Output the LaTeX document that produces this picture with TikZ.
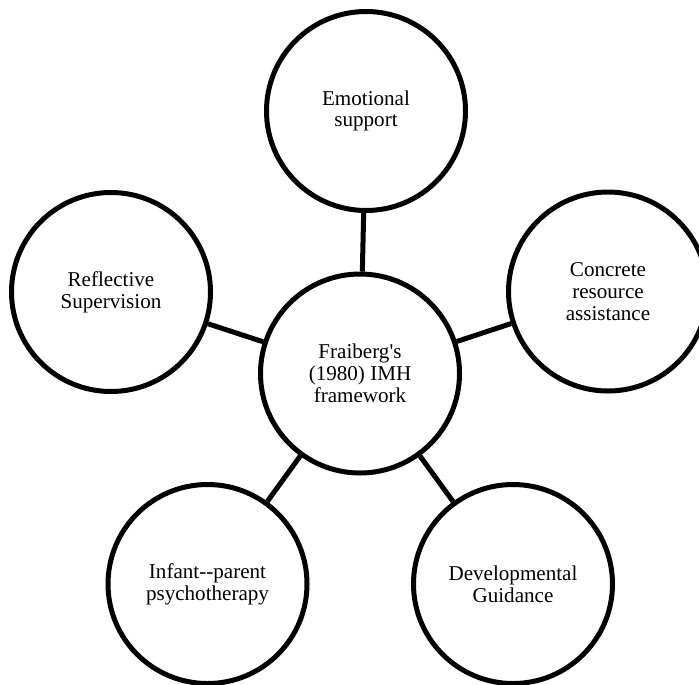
\documentclass[tikz,border=0pt]{standalone}
\usepackage{fontspec}
\setmainfont{Liberation Serif}[Ligatures=TeXOff]
\usepackage{xcolor}
\usepackage{tikz}
\usetikzlibrary{positioning}
\definecolor{Black}{gray}{0}

\begin{document}
\begin{tikzpicture}[
    bubble/.style={draw=Black, circle, line width=0.1cm, minimum size=3.98cm,
      align=center, inner sep=0pt, font=\fontsize{12}{12.4}\selectfont},
    link/.style={draw=Black, line width=0.1cm}
  ]
  \useasboundingbox (0,0) rectangle (13.98,-13.68);

  \node [bubble] (hub) at (7.20,-7.47) {Fraiberg's\\(1980) IMH\\framework};

  \node [bubble] (emotional) at (7.32,-2.22) {Emotional\\support};
  \node [bubble] (reflective) at (2.22,-5.84) {Reflective\\Supervision};
  \node [bubble] (concrete) at (12.16,-5.83) {Concrete\\resource\\assistance};
  \node [bubble] (infant) at (4.15,-11.68) {Infant--parent\\psychotherapy};
  \node [bubble] (developmental) at (10.26,-11.68) {Developmental\\Guidance};

  \draw [link] (hub) -- (emotional);
  \draw [link] (hub) -- (reflective);
  \draw [link] (hub) -- (concrete);
  \draw [link] (hub) -- (infant);
  \draw [link] (hub) -- (developmental);
\end{tikzpicture}
\end{document}
